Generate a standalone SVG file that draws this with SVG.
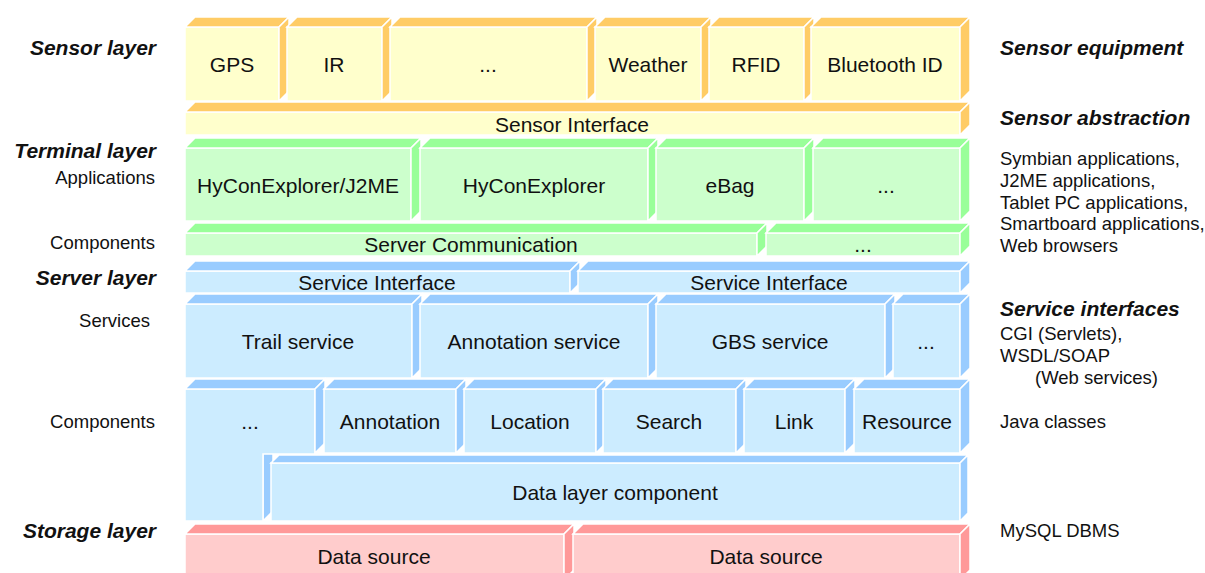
<svg xmlns="http://www.w3.org/2000/svg" width="1205" height="573" viewBox="0 0 1205 573">
  <style>
    polygon, rect { stroke: #ffffff; stroke-width: 1.5; stroke-linejoin: miter; }
    .ye .f { fill: #FFFFCC; } .ye .e { fill: #FFCC66; }
    .gr .f { fill: #CCFFCC; } .gr .e { fill: #99FF99; }
    .bl .f { fill: #CCECFF; } .bl .e { fill: #99CCFF; }
    .rd .f { fill: #FFCCCC; } .rd .e { fill: #FF9999; }
    text { font-family: "Liberation Sans", Arial, Helvetica, sans-serif; fill: #111111; }
    .lbl { font-size: 21px; text-anchor: middle; dominant-baseline: central; }
    .hd { font-size: 21px; font-weight: bold; font-style: italic; dominant-baseline: central; }
    .nt { font-size: 18.5px; dominant-baseline: central; }
    .l { text-anchor: end; }
  </style>
  <rect x="0" y="0" width="1205" height="573" fill="#ffffff" stroke="none"/>

  <!-- Sensor equipment -->
  <g class="ye">
    <g id="gps"><rect class="f" x="185" y="27" width="94" height="74"/><polygon class="e" points="185,27 195,17 289,17 279,27"/><polygon class="e" points="279,27 289,17 289,91 279,101"/><text class="lbl" x="232" y="64">GPS</text></g>
    <g id="ir"><rect class="f" x="287" y="27" width="95" height="74"/><polygon class="e" points="287,27 297,17 392,17 382,27"/><polygon class="e" points="382,27 392,17 392,91 382,101"/><text class="lbl" x="334" y="64">IR</text></g>
    <g id="sensor-more"><rect class="f" x="390" y="27" width="197" height="74"/><polygon class="e" points="390,27 400,17 597,17 587,27"/><polygon class="e" points="587,27 597,17 597,91 587,101"/><text class="lbl" x="488" y="64">...</text></g>
    <g id="weather"><rect class="f" x="595" y="27" width="106" height="74"/><polygon class="e" points="595,27 605,17 711,17 701,27"/><polygon class="e" points="701,27 711,17 711,91 701,101"/><text class="lbl" x="648" y="64">Weather</text></g>
    <g id="rfid"><rect class="f" x="709" y="27" width="95" height="74"/><polygon class="e" points="709,27 719,17 814,17 804,27"/><polygon class="e" points="804,27 814,17 814,91 804,101"/><text class="lbl" x="756" y="64">RFID</text></g>
    <g id="bluetooth"><rect class="f" x="811" y="27" width="149" height="74"/><polygon class="e" points="811,27 821,17 970,17 960,27"/><polygon class="e" points="960,27 970,17 970,91 960,101"/><text class="lbl" x="885" y="64">Bluetooth ID</text></g>
    <g id="sensor-interface"><rect class="f" x="185" y="112" width="775" height="23"/><polygon class="e" points="185,112 195,102 970,102 960,112"/><polygon class="e" points="960,112 970,102 970,125 960,135"/><text class="lbl" x="572" y="124">Sensor Interface</text></g>
  </g>

  <!-- Terminal applications and components -->
  <g class="gr">
    <g id="app-j2me"><rect class="f" x="185" y="148" width="226" height="73"/><polygon class="e" points="185,148 195,138 421,138 411,148"/><polygon class="e" points="411,148 421,138 421,211 411,221"/><text class="lbl" x="298" y="185">HyConExplorer/J2ME</text></g>
    <g id="app-hycon"><rect class="f" x="420" y="148" width="228" height="73"/><polygon class="e" points="420,148 430,138 658,138 648,148"/><polygon class="e" points="648,148 658,138 658,211 648,221"/><text class="lbl" x="534" y="185">HyConExplorer</text></g>
    <g id="app-ebag"><rect class="f" x="656" y="148" width="148" height="73"/><polygon class="e" points="656,148 666,138 814,138 804,148"/><polygon class="e" points="804,148 814,138 814,211 804,221"/><text class="lbl" x="730" y="185">eBag</text></g>
    <g id="app-more"><rect class="f" x="813" y="148" width="147" height="73"/><polygon class="e" points="813,148 823,138 970,138 960,148"/><polygon class="e" points="960,148 970,138 970,211 960,221"/><text class="lbl" x="886" y="185">...</text></g>
    <g id="server-communication"><rect class="f" x="185" y="233" width="572" height="23"/><polygon class="e" points="185,233 195,223 767,223 757,233"/><polygon class="e" points="757,233 767,223 767,246 757,256"/><text class="lbl" x="471" y="244">Server Communication</text></g>
    <g id="comm-more"><rect class="f" x="766" y="233" width="194" height="23"/><polygon class="e" points="766,233 776,223 970,223 960,233"/><polygon class="e" points="960,233 970,223 970,246 960,256"/><text class="lbl" x="863" y="244">...</text></g>
  </g>

  <!-- Server layer -->
  <g class="bl">
    <g id="service-interface-1"><rect class="f" x="185" y="271" width="385" height="22"/><polygon class="e" points="185,271 195,261 580,261 570,271"/><polygon class="e" points="570,271 580,261 580,283 570,293"/><text class="lbl" x="377" y="282">Service Interface</text></g>
    <g id="service-interface-2"><rect class="f" x="578" y="271" width="382" height="22"/><polygon class="e" points="578,271 588,261 970,261 960,271"/><polygon class="e" points="960,271 970,261 970,283 960,293"/><text class="lbl" x="769" y="282">Service Interface</text></g>

    <g id="trail-service"><rect class="f" x="185" y="304" width="227" height="74"/><polygon class="e" points="185,304 195,294 422,294 412,304"/><polygon class="e" points="412,304 422,294 422,368 412,378"/><text class="lbl" x="298" y="341">Trail service</text></g>
    <g id="annotation-service"><rect class="f" x="420" y="304" width="228" height="74"/><polygon class="e" points="420,304 430,294 658,294 648,304"/><polygon class="e" points="648,304 658,294 658,368 648,378"/><text class="lbl" x="534" y="341">Annotation service</text></g>
    <g id="gbs-service"><rect class="f" x="656" y="304" width="229" height="74"/><polygon class="e" points="656,304 666,294 895,294 885,304"/><polygon class="e" points="885,304 895,294 895,368 885,378"/><text class="lbl" x="770" y="341">GBS service</text></g>
    <g id="service-more"><rect class="f" x="893" y="304" width="67" height="74"/><polygon class="e" points="893,304 903,294 970,294 960,304"/><polygon class="e" points="960,304 970,294 970,368 960,378"/><text class="lbl" x="926" y="341">...</text></g>

    <!-- L-shaped component block wrapping the data layer -->
    <g id="component-more">
      <polygon class="e" points="263,453 273,443 273,511 263,521"/>
      <polygon class="f" points="185,389 315,389 315,454 263,454 263,521 185,521"/>
      <polygon class="e" points="185,389 195,379 325,379 315,389"/>
      <polygon class="e" points="315,389 325,379 325,443 315,453"/>
      <text class="lbl" x="250" y="421">...</text>
    </g>
    <g id="annotation"><rect class="f" x="324" y="389" width="132" height="64"/><polygon class="e" points="324,389 334,379 466,379 456,389"/><polygon class="e" points="456,389 466,379 466,443 456,453"/><text class="lbl" x="390" y="421">Annotation</text></g>
    <g id="location"><rect class="f" x="464" y="389" width="132" height="64"/><polygon class="e" points="464,389 474,379 606,379 596,389"/><polygon class="e" points="596,389 606,379 606,443 596,453"/><text class="lbl" x="530" y="421">Location</text></g>
    <g id="search"><rect class="f" x="603" y="389" width="133" height="64"/><polygon class="e" points="603,389 613,379 746,379 736,389"/><polygon class="e" points="736,389 746,379 746,443 736,453"/><text class="lbl" x="669" y="421">Search</text></g>
    <g id="link"><rect class="f" x="744" y="389" width="101" height="64"/><polygon class="e" points="744,389 754,379 855,379 845,389"/><polygon class="e" points="845,389 855,379 855,443 845,453"/><text class="lbl" x="794" y="421">Link</text></g>
    <g id="resource"><rect class="f" x="854" y="389" width="106" height="64"/><polygon class="e" points="854,389 864,379 970,379 960,389"/><polygon class="e" points="960,389 970,379 970,443 960,453"/><text class="lbl" x="907" y="421">Resource</text></g>

    <g id="data-layer"><rect class="f" x="271" y="463" width="689" height="58"/><polygon class="e" points="271,463 279,455 968,455 960,463"/><polygon class="e" points="960,463 968,455 968,513 960,521"/><text class="lbl" x="615" y="492">Data layer component</text></g>
  </g>

  <!-- Storage layer -->
  <g class="rd">
    <g id="data-source-1"><rect class="f" x="185" y="534" width="379" height="46"/><polygon class="e" points="185,534 195,524 574,524 564,534"/><polygon class="e" points="564,534 574,524 574,570 564,580"/><text class="lbl" x="374" y="556">Data source</text></g>
    <g id="data-source-2"><rect class="f" x="573" y="534" width="387" height="46"/><polygon class="e" points="573,534 583,524 970,524 960,534"/><polygon class="e" points="960,534 970,524 970,570 960,580"/><text class="lbl" x="766" y="556">Data source</text></g>
  </g>

  <!-- Layer names (left) -->
  <g id="left-labels">
    <text class="hd l" x="156" y="47">Sensor layer</text>
    <text class="hd l" x="156" y="150">Terminal layer</text>
    <text class="nt l" x="155" y="177">Applications</text>
    <text class="nt l" x="155" y="242">Components</text>
    <text class="hd l" x="156" y="277">Server layer</text>
    <text class="nt l" x="150" y="320">Services</text>
    <text class="nt l" x="155" y="421">Components</text>
    <text class="hd l" x="156" y="530">Storage layer</text>
  </g>

  <!-- Technology notes (right) -->
  <g id="right-labels">
    <text class="hd" x="1000" y="47">Sensor equipment</text>
    <text class="hd" x="1000" y="117">Sensor abstraction</text>
    <text class="nt" x="1000" y="158">Symbian applications,</text>
    <text class="nt" x="1000" y="180">J2ME applications,</text>
    <text class="nt" x="1000" y="202">Tablet PC applications,</text>
    <text class="nt" x="1000" y="223">Smartboard applications,</text>
    <text class="nt" x="1000" y="245">Web browsers</text>
    <text class="hd" x="1000" y="308">Service interfaces</text>
    <text class="nt" x="1000" y="333">CGI (Servlets),</text>
    <text class="nt" x="1000" y="355">WSDL/SOAP</text>
    <text class="nt" x="1035" y="377">(Web services)</text>
    <text class="nt" x="1000" y="421">Java classes</text>
    <text class="nt" x="1000" y="530">MySQL DBMS</text>
  </g>
</svg>
